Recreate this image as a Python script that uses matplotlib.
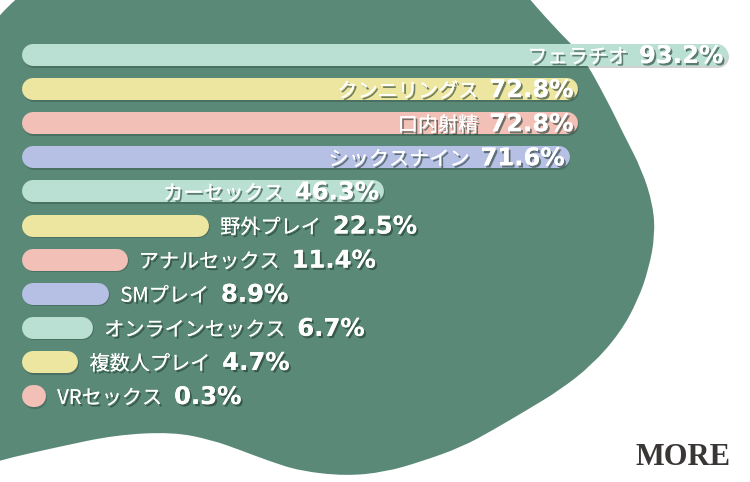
import numpy as np
import matplotlib.pyplot as plt
import matplotlib.patheffects as pe
from matplotlib.path import Path
from matplotlib.patches import PathPatch

# Data
labels = ["フェラチオ", "クンニリングス", "口内射精", "シックスナイン", "カーセックス",
          "野外プレイ", "アナルセックス", "SMプレイ", "オンラインセックス", "複数人プレイ", "VRセックス"]
values = [93.2, 72.8, 72.8, 71.6, 46.3, 22.5, 11.4, 8.9, 6.7, 4.7, 0.3]
bar_colors = ["#b9e0d2", "#ede6a0", "#f3c0b8", "#b6bfe4"]

# outline of the green background shape, in pixels
blob = [(-60, -60), (480, -60), (530, 0), (560, 33), (582, 55), (607, 100), (624, 135),
        (642, 170), (653, 205), (655, 235), (649, 268), (638, 300), (620, 333), (592, 365),
        (560, 390), (527, 410), (493, 430), (462, 447), (420, 462), (385, 472), (346, 476),
        (300, 471), (269, 461), (240, 450), (212, 440), (173, 432), (115, 435), (58, 447),
        (0, 460), (-60, 478)]

W, H = 750, 482
PX_X = 7.34      # pixels per percent
PX_Y = 34.1      # pixels per bar row
X0, Y0 = 33, 55  # pixel position of (0, first bar)
BAR_H = 22


def smooth_closed(pts):
    pts = np.asarray(pts, float)
    mids = (pts + np.roll(pts, -1, axis=0)) / 2
    verts = [mids[-1]]
    codes = [Path.MOVETO]
    for p, m in zip(pts, mids):
        verts += [p, m]
        codes += [Path.CURVE3, Path.CURVE3]
    verts.append(mids[-1])
    codes.append(Path.CLOSEPOLY)
    return Path(verts, codes)


fig = plt.figure(figsize=(W / 100, H / 100), dpi=100)
fig.patch.set_facecolor("white")

bg = fig.add_axes([0, 0, 1, 1])
bg.set_xlim(0, W)
bg.set_ylim(H, 0)
bg.axis("off")
bg.add_patch(PathPatch(smooth_closed(blob), fc="#5b8977", ec="none"))
bg.text(683, 465, "MORE", fontsize=22, family="Liberation Serif", weight="bold",
        color="#3a3636", ha="center", va="baseline")

ax = fig.add_axes([0, 0, 1, 1])
ax.patch.set_alpha(0)
ax.axis("off")
ax.set_xlim(-X0 / PX_X, (W - X0) / PX_X)
ax.set_ylim((H - Y0) / PX_Y, -Y0 / PX_Y)

lw = BAR_H * 72 / 100
shadow = [pe.withSimplePatchShadow(offset=(1.4, -1.6), shadow_rgbFace="#1e3a30", alpha=0.6),
          pe.Normal()]
label_kw = dict(fontsize=14.5, family=["Noto Sans CJK JP", "DejaVu Sans"], color="white",
                va="baseline", path_effects=shadow)
value_kw = dict(fontsize=17.5, family="DejaVu Sans", weight="bold", color="white",
                va="baseline", path_effects=shadow)

renderer = fig.canvas.get_renderer()

for i, (lab, v) in enumerate(zip(labels, values)):
    ax.plot([0, v], [i, i], color=bar_colors[i % 4], lw=lw, solid_capstyle="round",
            path_effects=[pe.SimpleLineShadow(offset=(0.6, -1.2), shadow_color="k", alpha=0.18),
                          pe.Normal()])
    base = i + 8 / PX_Y
    end = v + (BAR_H / 2) / PX_X
    if v > 30:
        t = ax.text(end - 5 / PX_X, base, f"{v}%", ha="right", **value_kw)
        w = t.get_window_extent(renderer).width / PX_X
        ax.text(end - 5 / PX_X - w - 11 / PX_X, base, lab, ha="right", **label_kw)
    else:
        t = ax.text(end + 11 / PX_X, base, lab, ha="left", **label_kw)
        w = t.get_window_extent(renderer).width / PX_X
        ax.text(end + 11 / PX_X + w + 12 / PX_X, base, f"{v}%", ha="left", **value_kw)

fig.savefig("out.png", dpi=100)
